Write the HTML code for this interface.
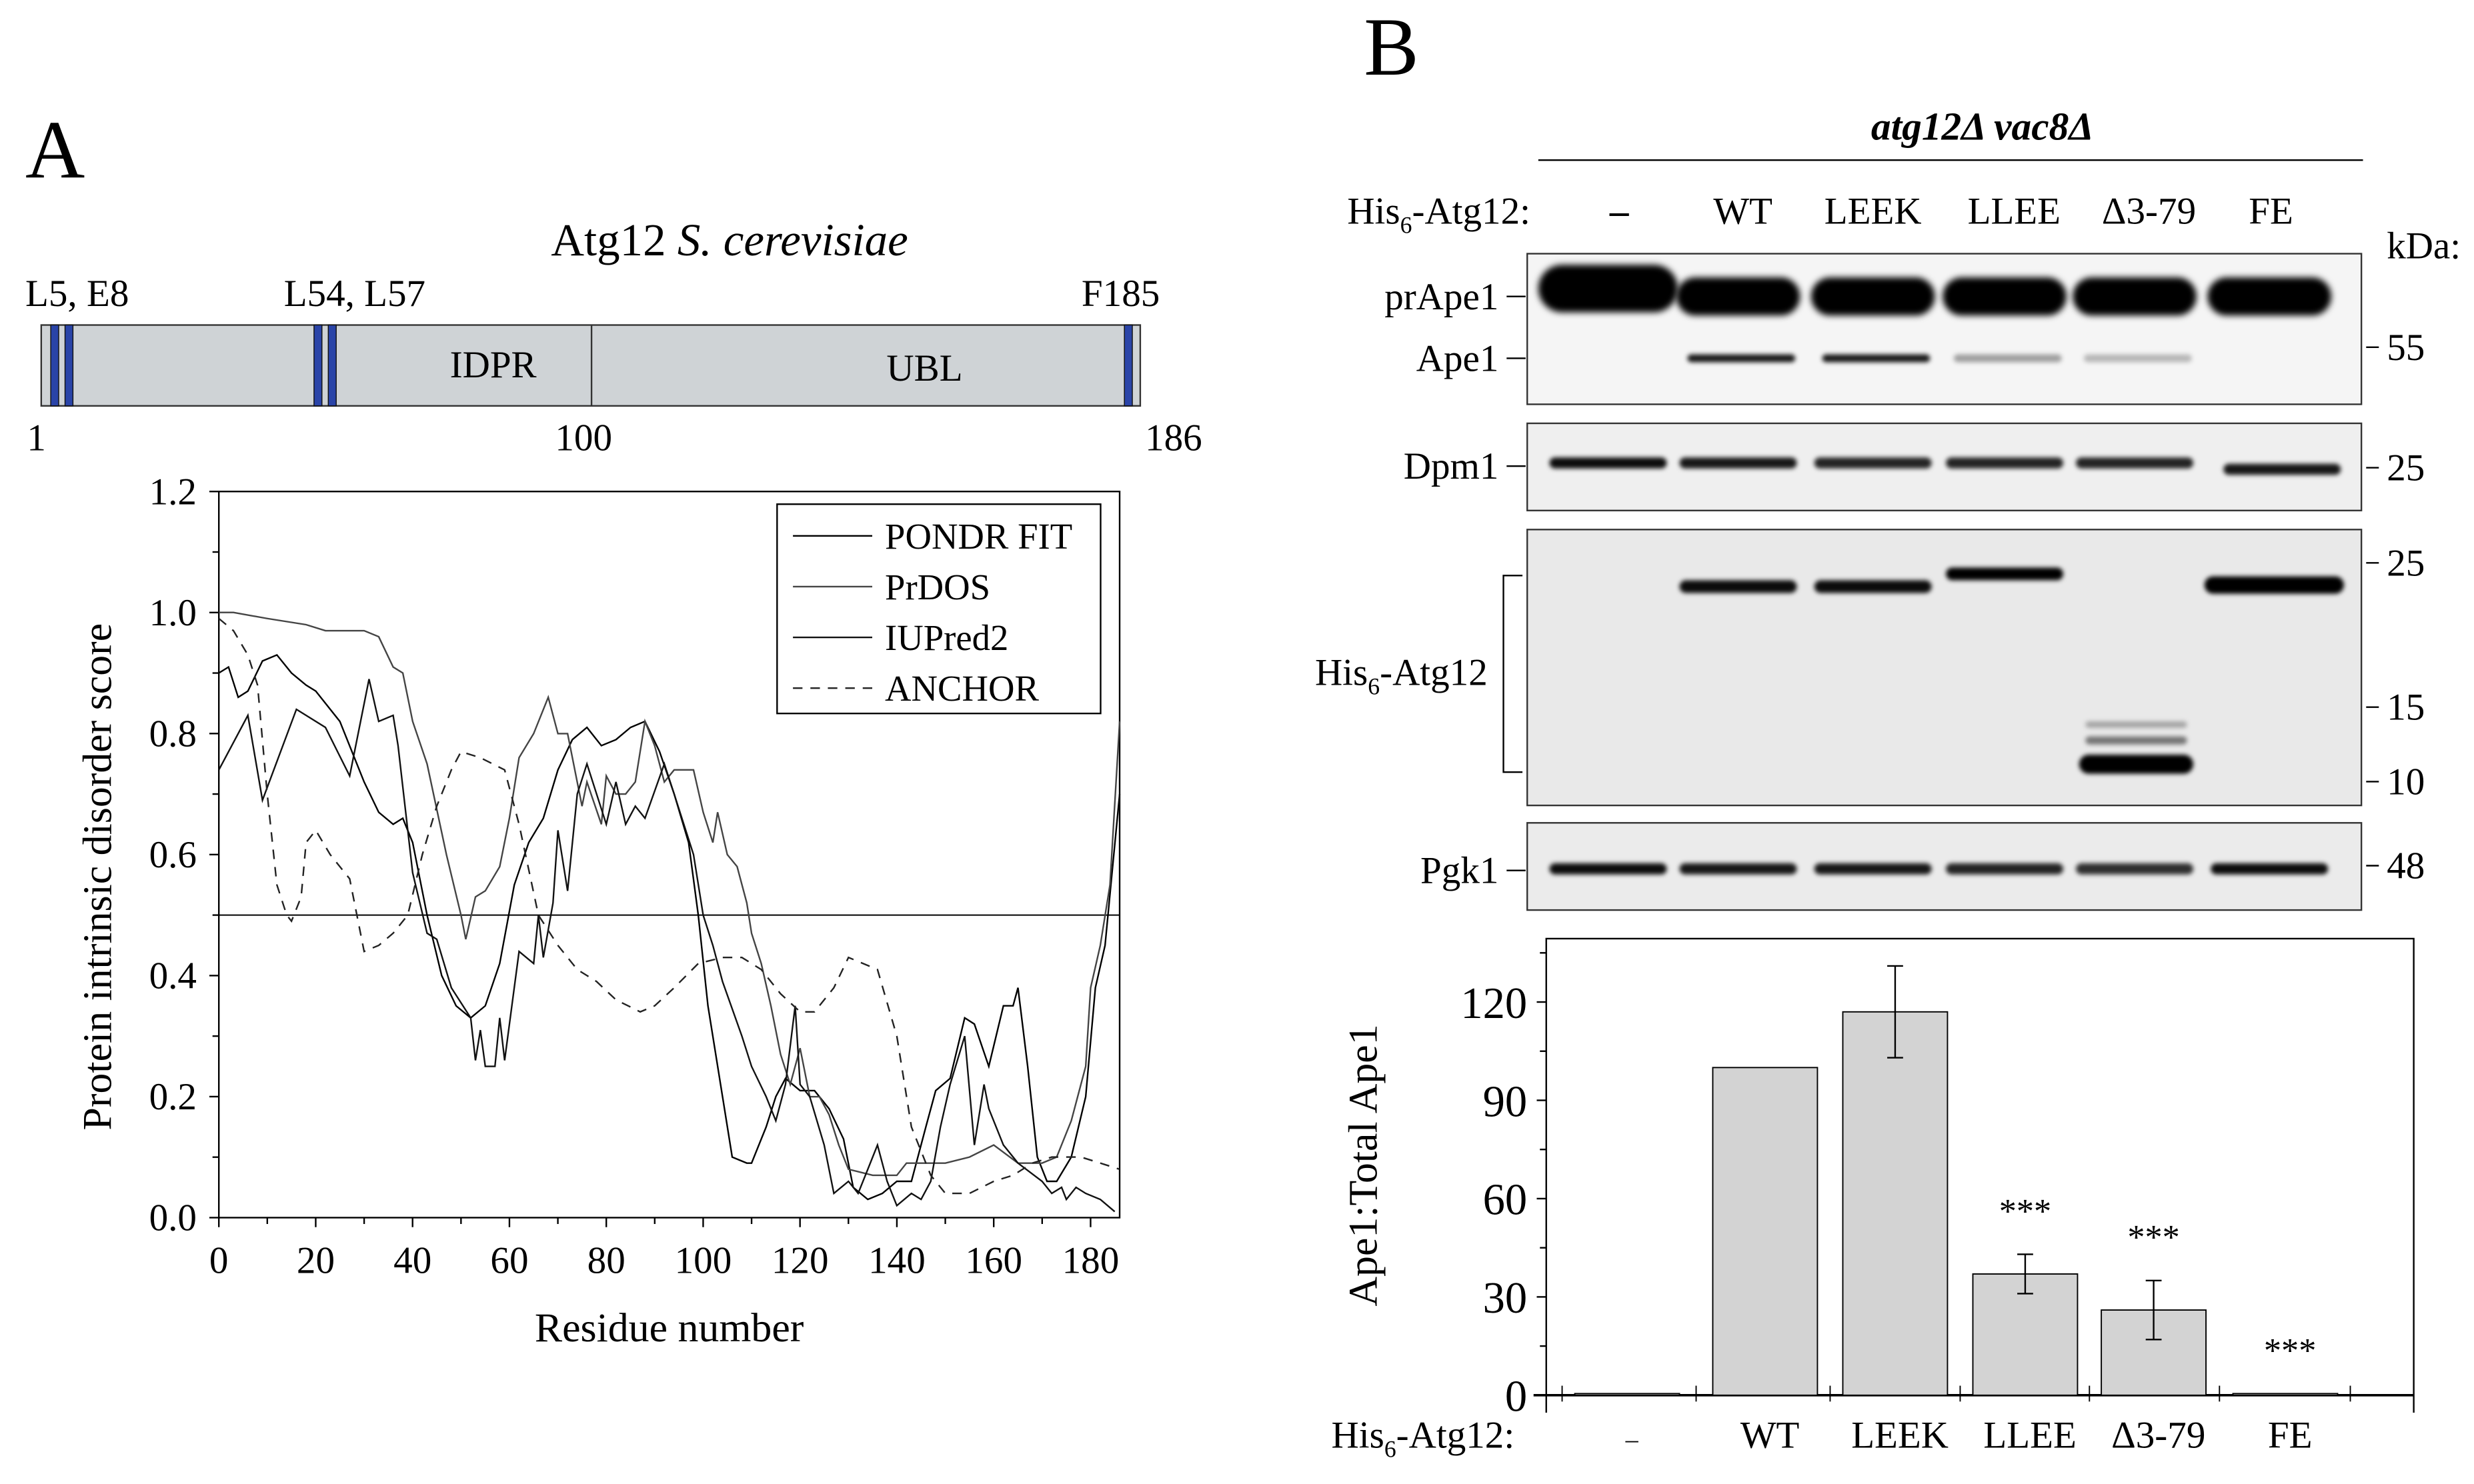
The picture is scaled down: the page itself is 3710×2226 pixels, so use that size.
<!DOCTYPE html>
<html><head><meta charset="utf-8"><style>
html,body{margin:0;padding:0;background:#fff;}
svg{display:block;font-family:"Liberation Serif",serif;}
</style></head><body>
<svg id="fig" width="3710" height="2226" viewBox="0 0 1560 936" font-family="Liberation Serif, serif" xmlns="http://www.w3.org/2000/svg">
<defs>
<filter id="blur1" x="-20%" y="-100%" width="140%" height="300%"><feGaussianBlur stdDeviation="2"/></filter>
<filter id="blur2" x="-20%" y="-100%" width="140%" height="300%"><feGaussianBlur stdDeviation="1.4"/></filter>
</defs>
<rect x="0" y="0" width="1560" height="936" fill="#fff"/>
<text x="16" y="112" font-size="52">A</text>
<text x="860" y="47" font-size="52">B</text>

<g>
<text x="460" y="161" font-size="29" text-anchor="middle">Atg12 <tspan font-style="italic">S. cerevisiae</tspan></text>
<rect x="26" y="205" width="693" height="51" fill="#cfd3d6" stroke="#333" stroke-width="1"/>
<line x1="373" y1="205" x2="373" y2="256" stroke="#333" stroke-width="1"/>
<rect x="32" y="205" width="5" height="51" fill="#2a44a8" stroke="#111" stroke-width="0.6"/>
<rect x="41" y="205" width="5" height="51" fill="#2a44a8" stroke="#111" stroke-width="0.6"/>
<rect x="198" y="205" width="5" height="51" fill="#2a44a8" stroke="#111" stroke-width="0.6"/>
<rect x="207" y="205" width="5" height="51" fill="#2a44a8" stroke="#111" stroke-width="0.6"/>
<rect x="709" y="205" width="5" height="51" fill="#2a44a8" stroke="#111" stroke-width="0.6"/>
<text x="16" y="193" font-size="24">L5, E8</text>
<text x="179" y="193" font-size="24">L54, L57</text>
<text x="682" y="193" font-size="24">F185</text>
<text x="311" y="238" font-size="24" text-anchor="middle">IDPR</text>
<text x="583" y="240" font-size="24" text-anchor="middle">UBL</text>
<text x="23" y="284" font-size="24" text-anchor="middle">1</text>
<text x="368" y="284" font-size="24" text-anchor="middle">100</text>
<text x="740" y="284" font-size="24" text-anchor="middle">186</text>
</g>

<g id="lineChart"></g>

<g>
<text x="1250" y="88" font-size="25" font-style="italic" font-weight="bold" text-anchor="middle">atg12Δ vac8Δ</text>
<line x1="970" y1="101" x2="1490" y2="101" stroke="#000" stroke-width="1"/>
<text x="965" y="141" font-size="24" text-anchor="end">His<tspan font-size="15" dy="6">6</tspan><tspan dy="-6">-Atg12:</tspan></text>
<g id="laneLabels"></g>
<text x="1505" y="163" font-size="24">kDa:</text>
<g id="blots"></g>
</g>

<g id="barChart"></g>
</svg>
<script>
const pondrX = [0,2,4,6,9,12,15,18,20,25,30,33,36,38,40,43,46,49,52,55,58,61,64,67,70,73,76,79,82,85,88,91,94,97,99,101,104,106,109,110,113,115,117,120,123,126,129,131,134,137,140,143,146,148,151,154,156,159,162,164,165,167,169,171,173,176,179,181,183,186];
const pondrY = [0.90,0.91,0.86,0.87,0.92,0.93,0.90,0.88,0.87,0.82,0.72,0.67,0.65,0.66,0.62,0.50,0.40,0.35,0.33,0.35,0.42,0.55,0.62,0.66,0.74,0.79,0.81,0.78,0.79,0.81,0.82,0.77,0.70,0.62,0.50,0.35,0.20,0.10,0.09,0.09,0.15,0.20,0.23,0.21,0.21,0.18,0.13,0.05,0.03,0.04,0.06,0.06,0.15,0.21,0.23,0.33,0.32,0.25,0.35,0.35,0.38,0.25,0.10,0.06,0.06,0.10,0.20,0.38,0.45,0.70];
const prdosX = [0,3,10,18,22,30,33,36,38,40,43,47,50,51,53,55,58,60,62,65,68,70,72,75,76,79,80,82,84,86,88,90,92,94,98,100,102,103,105,107,109,110,112,114,116,118,120,122,124,126,128,130,135,140,142,150,155,160,165,170,173,176,179,180,182,184,186];
const prdosY = [1.00,1.00,0.99,0.98,0.97,0.97,0.96,0.91,0.90,0.82,0.75,0.60,0.50,0.46,0.53,0.54,0.58,0.66,0.76,0.80,0.86,0.80,0.80,0.68,0.72,0.65,0.73,0.70,0.70,0.72,0.82,0.78,0.72,0.74,0.74,0.67,0.62,0.67,0.60,0.58,0.52,0.47,0.42,0.35,0.27,0.22,0.28,0.20,0.20,0.17,0.12,0.08,0.07,0.07,0.09,0.09,0.10,0.12,0.09,0.09,0.10,0.16,0.25,0.38,0.45,0.55,0.82];
const iupredX = [0,6,9,16,22,27,31,33,36,37,40,43,45,48,52,53,54,55,57,58,59,62,65,66,67,69,70,72,74,76,80,82,84,86,88,92,94,98,100,102,104,108,110,113,115,117,119,120,122,125,127,130,132,134,136,138,140,143,145,147,149,151,154,156,158,159,162,165,170,172,174,175,177,179,182,185];
const iupredY = [0.74,0.83,0.69,0.84,0.81,0.73,0.89,0.82,0.83,0.78,0.57,0.47,0.46,0.38,0.33,0.26,0.31,0.25,0.25,0.33,0.26,0.44,0.42,0.50,0.43,0.52,0.64,0.54,0.70,0.75,0.65,0.72,0.65,0.68,0.66,0.75,0.70,0.60,0.50,0.45,0.39,0.30,0.25,0.20,0.16,0.22,0.35,0.22,0.20,0.12,0.04,0.06,0.04,0.08,0.12,0.06,0.02,0.04,0.03,0.06,0.15,0.22,0.30,0.12,0.22,0.18,0.12,0.09,0.06,0.04,0.05,0.03,0.05,0.04,0.03,0.01];
const anchorX = [0,3,6,8,10,12,14,15,17,18,20,23,27,30,33,36,39,42,45,48,50,54,59,62,66,70,74,78,82,87,90,94,99,104,108,112,116,120,123,127,130,133,136,140,143,147,150,155,160,164,168,172,176,178,182,186];
const anchorY = [0.99,0.97,0.93,0.88,0.70,0.55,0.50,0.49,0.53,0.62,0.64,0.60,0.56,0.44,0.45,0.47,0.50,0.60,0.68,0.74,0.77,0.76,0.74,0.65,0.50,0.45,0.41,0.39,0.36,0.34,0.35,0.38,0.42,0.43,0.43,0.41,0.37,0.34,0.34,0.38,0.43,0.42,0.41,0.30,0.15,0.07,0.04,0.04,0.06,0.07,0.09,0.10,0.10,0.10,0.09,0.08];
const xTicks = [0,20,40,60,80,100,120,140,160,180];
const yTicks = [0.0,0.2,0.4,0.6,0.8,1.0,1.2];
const threshold = 0.5;

const lanes = ['–','WT','LEEK','LLEE','Δ3-79','FE'];
const barValues = [0.5,100,117,37,26,0.5];
const barErrors = [0,0,14,6,9,0];
const barSig = ['','','','***','***','***'];
const barTicks = [0,30,60,90,120];
const prApe1 = [1.0,1.0,1.0,1.0,1.0,1.0];
const ape1 = [0,0.9,0.9,0.35,0.25,0];
const dpm1 = [0.95,0.9,0.85,0.85,0.85,0.9];
const hisAtg12 = [0,0.95,0.95,1.0,0,1.0];
const pgk1 = [0.95,0.9,0.9,0.85,0.8,0.95];
const markers = [['55',219],['25',295],['25',355],['15',446],['10',493],['48',546]];

const NS='http://www.w3.org/2000/svg';
function mk(tag, attrs, parent){const e=document.createElementNS(NS,tag);for(const k in attrs)e.setAttribute(k,attrs[k]);parent.appendChild(e);return e;}

(function(){
const g=document.getElementById('lineChart');
const X0=138,X1=706,Y0=768,Y1=310;
const sx=v=>X0+(v/186)*(X1-X0);
const sy=v=>Y0-(v/1.2)*(Y0-Y1);
let r=mk('rect',{x:X0,y:Y1,width:X1-X0,height:Y0-Y1,fill:'none',stroke:'#000','stroke-width':1},g);


xTicks.forEach(t=>{
 let l=mk('line',{x1:sx(t),x2:sx(t),y1:Y0,y2:Y0+6,stroke:'#000'},g);
 
 
 let tx=mk('text',{x:sx(t),y:Y0+35,'font-size':24,'text-anchor':'middle'},g);tx.textContent=t;
 
 
});
for(let t=10;t<186;t+=20){let l=mk('line',{x1:sx(t),x2:sx(t),y1:Y0,y2:Y0+4,stroke:'#000'},g);
 
 }
yTicks.forEach(t=>{
 let l=mk('line',{x1:X0-6,x2:X0,y1:sy(t),y2:sy(t),stroke:'#000'},g);
 
 
 let tx=mk('text',{x:X0-14,y:sy(t)+8,'font-size':24,'text-anchor':'end'},g);tx.textContent=t.toFixed(1);
 
 
});
for(let t=0.1;t<1.2;t+=0.2){let l=mk('line',{x1:X0-4,x2:X0,y1:sy(t),y2:sy(t),stroke:'#000'},g);
 
 }
let th=mk('line',{x1:X0,x2:X1,y1:sy(threshold),y2:sy(threshold),stroke:'#000','stroke-width':0.8},g);


const series=[[pondrX,pondrY,'#000','','pondr-fit-line'],[prdosX,prdosY,'#444','','prdos-line'],[iupredX,iupredY,'#111','','iupred2-line'],[anchorX,anchorY,'#222','6,5','anchor-line']];
series.forEach(s=>{
 const d=s[0].map((x,i)=>(i?'L':'M')+sx(x).toFixed(1)+','+sy(s[1][i]).toFixed(1)).join(' ');
 let p=mk('path',{d:d,fill:'none',stroke:s[2],'stroke-width':1,'stroke-dasharray':s[3]},g);
 
 
});
let xl=mk('text',{x:422,y:846,'font-size':26,'text-anchor':'middle'},g);xl.textContent='Residue number';


let yl=mk('text',{x:0,y:0,'font-size':26,'text-anchor':'middle',transform:'translate(70,553) rotate(-90)'},g);yl.textContent='Protein intrinsic disorder score';


let lg=mk('rect',{x:490,y:318,width:204,height:132,fill:'#fff',stroke:'#000','stroke-width':1},g);


const names=['PONDR FIT','PrDOS','IUPred2','ANCHOR'];
names.forEach((n,i)=>{
 const y=338+i*32;
 let l=mk('line',{x1:500,x2:550,y1:y,y2:y,stroke:series[i][2],'stroke-width':1,'stroke-dasharray':series[i][3]},g);
 
 
 let t=mk('text',{x:558,y:y+8,'font-size':23},g);t.textContent=n;
 
 
});
})();

(function(){
const lx=[1021,1099,1181,1270,1355,1432];
const bx=[1014,1096,1181,1264,1346,1431];
const ll=document.getElementById('laneLabels');
lanes.forEach((n,i)=>{
 let t=mk('text',{x:lx[i],y:141,'font-size':24,'text-anchor':'middle','font-weight':i==0?'bold':'normal'},ll);t.textContent=n;
 
 
});
const g=document.getElementById('blots');
const panels=[[160,255,'blot-ape1','#f5f5f5'],[267,322,'blot-dpm1','#efefef'],[334,508,'blot-his-atg12','#e9e9e9'],[519,574,'blot-pgk1','#ebebeb']];
panels.forEach(p=>{
 let r=mk('rect',{x:963,y:p[0],width:526,height:p[1]-p[0],fill:p[3],stroke:'#333','stroke-width':1},g);
 
 
});
function band(x,y,w,h,a,name,blur){
 if(a<=0)return;
 let e=mk('rect',{x:x-w/2,y:y-h/2,width:w,height:h,rx:h/2,fill:'#000','fill-opacity':a,filter:blur||'url(#blur2)'},g);
 
 
}
prApe1.forEach((a,i)=>band(bx[i],i==0?182:187,i==0?88:78,i==0?30:24,a,'band-prape1','url(#blur1)'));
ape1.forEach((a,i)=>band(bx[i]+2,226,68,5,a,'band-ape1'));
dpm1.forEach((a,i)=>band(bx[i]+(i==5?8:0),i==5?296:292,74,7,a,'band-dpm1'));
hisAtg12.forEach((a,i)=>band(bx[i]+(i==5?3:0),i==3?362:i==5?369:370,i==5?88:74,i==5?11:8,a,'band-his-atg12'));
band(1347,457,64,4,0.3,'band-d3-79-upper');
band(1347,467,64,5,0.5,'band-d3-79-mid');
band(1347,482,72,12,1.0,'band-d3-79-main');
pgk1.forEach((a,i)=>band(bx[i],548,74,7,a,'band-pgk1'));
markers.forEach(m=>{
 let l=mk('line',{x1:1492,x2:1500,y1:m[1],y2:m[1],stroke:'#000'},g);
 
 
 let t=mk('text',{x:1505,y:m[1]+8,'font-size':24},g);t.textContent=m[0];
 
 
});
const left=[['prApe1',187],['Ape1',226],['Dpm1',294],['Pgk1',549]];
left.forEach(m=>{
 let l=mk('line',{x1:950,x2:962,y1:m[1],y2:m[1],stroke:'#000'},g);
 
 
 let t=mk('text',{x:945,y:m[1]+8,'font-size':24,'text-anchor':'end'},g);t.textContent=m[0];
 
 
});
let hb=mk('path',{d:'M960,363 H948 V487 H960',fill:'none',stroke:'#000','stroke-width':1},g);


let ht=mk('text',{x:938,y:432,'font-size':24,'text-anchor':'end'},g);
ht.innerHTML='His<tspan font-size="15" dy="6">6</tspan><tspan dy="-6">-Atg12</tspan>';


})();

(function(){
const g=document.getElementById('barChart');
const X0=975,X1=1522,Y0=880,Ytop=592;
const cx=[1026,1113,1195,1277,1358,1441];
const sy=v=>Y0-(v/120)*(Y0-632);
let f=mk('path',{d:`M${X0},${Y0+11} V${Ytop} H${X1} V${Y0+11}`,fill:'none',stroke:'#000','stroke-width':1},g);


let zl=mk('line',{x1:X0-8,x2:X1,y1:Y0,y2:Y0,stroke:'#000','stroke-width':1.5},g);


barTicks.forEach(t=>{
 let l=mk('line',{x1:X0-6,x2:X0,y1:sy(t),y2:sy(t),stroke:'#000'},g);
 
 
 let tx=mk('text',{x:X0-12,y:sy(t)+10,'font-size':28,'text-anchor':'end'},g);tx.textContent=t;
 
 
});
for(let t=15;t<140;t+=30){let l=mk('line',{x1:X0-4,x2:X0,y1:sy(t),y2:sy(t),stroke:'#000'},g);
 
 }
for(let i=0;i<=6;i++){const x=i==0?cx[0]-41:(i==6?cx[5]+41:(cx[i-1]+cx[i])/2);
 let l=mk('line',{x1:x,x2:x,y1:Y0-6,y2:Y0+4,stroke:'#000','stroke-width':0.8},g);
 
 }
barValues.forEach((v,i)=>{
 let b=mk('rect',{x:cx[i]-33,y:sy(v),width:66,height:Y0-sy(v),fill:'#d3d3d3',stroke:'#000','stroke-width':0.8},g);
 
 
 if(barErrors[i]>0){
  const hi=sy(v+barErrors[i]),lo=sy(v-barErrors[i]);
  let e=mk('path',{d:`M${cx[i]},${hi} V${lo} M${cx[i]-5},${hi} H${cx[i]+5} M${cx[i]-5},${lo} H${cx[i]+5}`,stroke:'#000','stroke-width':1,fill:'none'},g);
  
  
 }
 if(barSig[i]){
  const top=v+barErrors[i];
  let s=mk('text',{x:cx[i]+(i==5?3:0),y:sy(top)-20,'font-size':22,'text-anchor':'middle'},g);s.textContent=barSig[i];
  
  
 }
 let t=mk('text',{x:cx[i]+3,y:913,'font-size':24,'text-anchor':'middle'},g);t.textContent=lanes[i];
 if(i==0)t.setAttribute('font-size','16');
 
 
});
let yl=mk('text',{x:0,y:0,'font-size':26,'text-anchor':'middle',transform:'translate(868,735) rotate(-90)'},g);yl.textContent='Ape1:Total Ape1';


let hl=mk('text',{x:955,y:913,'font-size':24,'text-anchor':'end'},g);
hl.innerHTML='His<tspan font-size="15" dy="6">6</tspan><tspan dy="-6">-Atg12:</tspan>';


})();
</script>
</body></html>
